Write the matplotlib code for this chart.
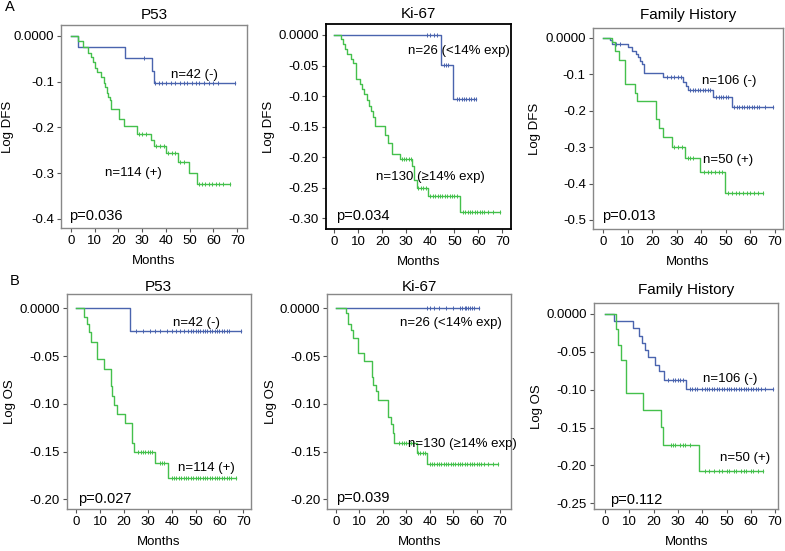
import numpy as np
import matplotlib
matplotlib.use("Agg")
import matplotlib.pyplot as plt

plt.rcParams['font.family'] = ['Liberation Sans', 'DejaVu Sans']

BLUE = '#4a64ae'
GREEN = '#44c04c'

# ---- A: DFS ----
# P53
a1_neg_t = [0, 3, 23, 34, 35]
a1_neg_s = [0, -0.025, -0.049, -0.076, -0.103]
a1_neg_c = [31, 35.5, 37, 38.5, 40, 42, 44, 46, 47.5, 49, 51, 52.5, 54, 56, 58, 60, 62, 69]
a1_pos_t = [0, 3, 5, 7.4, 8.4, 9.2, 10.2, 11.2, 12.6, 14, 14.6, 15.1, 15.8, 16.5, 17,
            20.4, 22.5, 27.7, 33.6, 35, 39.9, 45.2, 49.8, 52.9]
a1_pos_s = [0, -0.012, -0.025, -0.038, -0.047, -0.056, -0.071, -0.078, -0.09, -0.102,
            -0.112, -0.124, -0.133, -0.14, -0.16, -0.181, -0.198, -0.214, -0.227, -0.24,
            -0.256, -0.275, -0.299, -0.323]
a1_pos_c = [28.5, 30, 31.5, 36, 37.5, 39, 41, 42.5, 44, 46, 47.5, 54, 55, 56.5, 58, 59.5,
            61, 62.5, 64, 67]

# Ki-67
a2_neg_t = [0, 44.3, 49.6]
a2_neg_s = [0, -0.049, -0.105]
a2_neg_c = [38.5, 40, 41.5, 42.6, 45.5, 46.5, 47.5, 51, 52, 53, 54, 55, 56, 57, 58, 59]
a2_pos_t = [0, 2.8, 3.5, 4.4, 5.1, 6.9, 7.9, 8.9, 10.7, 11.7, 12.4, 13.5, 14.4, 15.3,
            16.3, 16.9, 21.1, 22.5, 24.2, 27.4, 32.2, 33.2, 34.3, 39.2, 52.4]
a2_pos_s = [0, -0.007, -0.014, -0.023, -0.031, -0.04, -0.046, -0.072, -0.08, -0.089,
            -0.097, -0.106, -0.116, -0.124, -0.134, -0.149, -0.164, -0.177, -0.195,
            -0.203, -0.214, -0.237, -0.251, -0.263, -0.29]
a2_pos_c = [28, 29, 30, 31, 32, 35, 36, 37, 38, 40, 41, 42, 43, 44, 45, 46, 47, 48, 49,
            50, 51, 53.5, 54.5, 55.5, 56.5, 57.5, 58.5, 59.5, 60.5, 61.5, 62.5, 64, 66, 69]

# Family History
a3_neg_t = [0, 2.7, 3.4, 10.2, 11.8, 13.3, 14.3, 15, 16, 16.7, 24.5, 32.6, 33.7, 34.7,
            44.6, 52.3]
a3_neg_s = [0, -0.008, -0.017, -0.027, -0.036, -0.045, -0.054, -0.064, -0.073, -0.098,
            -0.109, -0.122, -0.133, -0.144, -0.164, -0.189]
a3_neg_c = [5, 7, 26, 27.5, 29, 30.5, 31.5, 35.5, 36.5, 37.5, 38.5, 39.5, 40.5, 41.5,
            42.5, 43.5, 46, 47, 48, 49, 50, 51, 53.5, 54.5, 55.5, 56.5, 57.5, 58.5, 59.5,
            60.5, 61.5, 62.5, 63.5, 66, 69]
a3_pos_t = [0, 3.4, 4.8, 6.5, 8.8, 12.9, 13.6, 21.7, 22.7, 24.5, 27.9, 33.3, 39.4, 49.6]
a3_pos_s = [0, -0.011, -0.038, -0.061, -0.127, -0.151, -0.173, -0.224, -0.249, -0.273,
            -0.299, -0.331, -0.369, -0.427]
a3_pos_c = [29, 30.5, 32, 34.5, 35.5, 36.5, 41, 42.5, 44, 45.5, 47, 48.5, 51, 52.5, 54,
            55.5, 57, 58.5, 60, 61.5, 63, 65]

# ---- B: OS ----
# P53
b1_neg_t = [0, 22.6]
b1_neg_s = [0, -0.0237]
b1_neg_c = [25, 28, 31, 33, 35, 38, 40, 42, 43.5, 45, 47, 48, 49, 50, 51, 52, 53, 54,
            55, 56, 57, 58, 59, 60, 61, 62, 63, 64, 69]
b1_pos_t = [0, 3.5, 4.7, 5.6, 6.3, 8.6, 11.9, 14.5, 15.2, 16, 17.3, 20.5, 23.3, 24.4,
            33, 38.6]
b1_pos_s = [0, -0.0087, -0.016, -0.025, -0.035, -0.053, -0.063, -0.081, -0.092, -0.101,
            -0.111, -0.12, -0.141, -0.15, -0.162, -0.178]
b1_pos_c = [26, 27, 28, 29, 30, 31, 32, 35, 36, 37, 40, 41, 42, 43, 44, 45, 46, 47, 48,
            49, 50, 51, 52, 53, 54, 55, 56, 57, 58, 59, 60, 61, 62, 63, 64, 65, 67]

# Ki-67
b2_neg_t = [0]
b2_neg_s = [0]
b2_neg_c = [39, 40, 42, 44, 47, 50, 53, 54, 55, 55.7, 56.4, 57, 58, 59, 61]
b2_pos_t = [0, 4.1, 5, 6.4, 7.4, 9.2, 12.1, 15.2, 15.9, 16.9, 18, 22.3, 23.5, 24.3,
            24.8, 34.4, 39]
b2_pos_s = [0, -0.005, -0.016, -0.023, -0.031, -0.047, -0.055, -0.072, -0.08, -0.087,
            -0.096, -0.114, -0.121, -0.13, -0.141, -0.151, -0.163]
b2_pos_c = [27, 28, 29, 30, 31, 32, 33, 35, 36, 37, 38, 40, 41, 42, 43, 44, 45, 46,
            47, 48, 49, 50, 51, 52, 53, 54, 55, 56, 57, 58, 59, 60, 61, 62, 63, 65, 67, 69]

# Family History
b3_neg_t = [0, 3.7, 11.7, 14.1, 15.1, 16.5, 17.8, 20.6, 22.4, 24.3, 33.2]
b3_neg_s = [0, -0.009, -0.019, -0.029, -0.038, -0.048, -0.057, -0.067, -0.076, -0.087,
            -0.0995]
b3_neg_c = [26, 28, 29, 30, 31, 32, 35, 36, 37, 38, 40, 41, 42, 43, 44, 45, 46, 47, 48,
            49, 50, 51, 52, 53, 54, 55, 56, 57, 58, 59, 60, 61, 62, 63, 64, 66, 69]
b3_pos_t = [0, 4.5, 5.5, 6.5, 8.6, 15.5, 22.9, 23.7, 38.7]
b3_pos_s = [0, -0.02, -0.041, -0.061, -0.105, -0.127, -0.149, -0.173, -0.207]
b3_pos_c = [27, 28, 29, 31, 32, 33, 35, 41, 43, 45, 47, 48, 50, 51, 53, 54, 56, 57, 58,
            60, 61, 63, 65]

titles = ['P53', 'Ki-67', 'Family History', 'P53', 'Ki-67', 'Family History']
ylabels = ['Log DFS'] * 3 + ['Log OS'] * 3
pvalues = ['p=0.036', 'p=0.034', 'p=0.013', 'p=0.027', 'p=0.039', 'p=0.112']
neg_labels = ['n=42 (-)', 'n=26 (<14% exp)', 'n=106 (-)',
              'n=42 (-)', 'n=26 (<14% exp)', 'n=106 (-)']
pos_labels = ['n=114 (+)', 'n=130 (\u226514% exp)', 'n=50 (+)',
              'n=114 (+)', 'n=130 (\u226514% exp)', 'n=50 (+)']
yticks = [[0, -0.1, -0.2, -0.3, -0.4],
          [0, -0.05, -0.10, -0.15, -0.20, -0.25, -0.30],
          [0, -0.1, -0.2, -0.3, -0.4, -0.5],
          [0, -0.05, -0.10, -0.15, -0.20],
          [0, -0.05, -0.10, -0.15, -0.20],
          [0, -0.05, -0.10, -0.15, -0.20, -0.25]]
ytick_fmt = ['{:.1f}', '{:.2f}', '{:.1f}', '{:.2f}', '{:.2f}', '{:.2f}']

curves = [
    (a1_neg_t, a1_neg_s, a1_neg_c, a1_pos_t, a1_pos_s, a1_pos_c),
    (a2_neg_t, a2_neg_s, a2_neg_c, a2_pos_t, a2_pos_s, a2_pos_c),
    (a3_neg_t, a3_neg_s, a3_neg_c, a3_pos_t, a3_pos_s, a3_pos_c),
    (b1_neg_t, b1_neg_s, b1_neg_c, b1_pos_t, b1_pos_s, b1_pos_c),
    (b2_neg_t, b2_neg_s, b2_neg_c, b2_pos_t, b2_pos_s, b2_pos_c),
    (b3_neg_t, b3_neg_s, b3_neg_c, b3_pos_t, b3_pos_s, b3_pos_c),
]

# layout, in pixels: left, right, top, bottom
W, H = 785, 551
boxes = [(61, 247, 25, 228), (325.7, 510.7, 24, 229), (592.7, 783.3, 27.7, 229.3),
         (66.7, 250.7, 294, 509), (327.3, 511, 294, 509), (594, 778.3, 303.3, 509)]
xlims = [(-4.1, 74.1), (-3.6, 73.5), (-4.3, 73.4), (-3.9, 73.1), (-3.7, 74.7), (-4.5, 71.3)]
ylims = [(-0.42, 0.024), (-0.3175, 0.018), (-0.5255, 0.027),
         (-0.210, 0.015), (-0.210, 0.015), (-0.2575, 0.014)]
title_pads = [4, 4, 6, 0.5, 0.5, 7]
ylabel_x = [-0.25, -0.275, -0.27, -0.275, -0.275, -0.275]
# text positions (data coords): neg label centre, pos label centre, p-value left
neg_xy = [(52.2, -0.085), (51.7, -0.027), (51.5, -0.118),
          (50.5, -0.0157), (49, -0.0157), (51.5, -0.086)]
pos_xy = [(26.3, -0.299), (40.1, -0.233), (51, -0.335),
          (54.7, -0.1675), (54, -0.1416), (57.6, -0.19)]
p_xy = [(-0.7, -0.393), (0.7, -0.297), (-0.3, -0.49),
        (0.7, -0.2), (0, -0.199), (2.3, -0.245)]


def step_level(t, s, x):
    i = np.searchsorted(t, x, side='right') - 1
    return np.asarray(s)[i]


fig = plt.figure(figsize=(W / 100, H / 100), dpi=100)

for k in range(6):
    l, r, tp, bt = boxes[k]
    ax = fig.add_axes([l / W, 1 - bt / H, (r - l) / W, (bt - tp) / H])
    nt, ns, nc, pt, ps, pc = curves[k]
    for t, s, c, col in [(nt, ns, nc, BLUE), (pt, ps, pc, GREEN)]:
        tend = max(c)
        ax.step(list(t) + [tend], list(s) + [s[-1]], where='post', color=col, lw=1.0)
        ax.plot(c, step_level(t, s, c), ls='none', marker='|', ms=3.5, mew=0.7, color=col)

    ax.set_xlim(*xlims[k])
    ax.set_ylim(*ylims[k])
    ax.set_xticks(range(0, 71, 10))
    ax.set_yticks(yticks[k])
    labs = ['0.0000'] + [ytick_fmt[k].format(v) for v in yticks[k][1:]]
    ax.set_yticklabels(labs)
    ax.tick_params(labelsize=9.5, length=3, width=0.8, color='#555555', pad=2)

    spine_col = 'black' if k == 1 else '#888888'
    spine_w = 1.3 if k == 1 else 1.0
    for sp in ax.spines.values():
        sp.set_color(spine_col)
        sp.set_linewidth(spine_w)

    ax.set_title(titles[k], fontsize=11, pad=title_pads[k])
    h = bt - tp
    ax.set_xlabel('Months', fontsize=9.5)
    ax.xaxis.set_label_coords(0.5, -27 / h)
    ax.set_ylabel(ylabels[k], fontsize=9.5)
    ax.yaxis.set_label_coords(ylabel_x[k], 0.5)

    ax.text(*neg_xy[k], neg_labels[k], fontsize=9.5, ha='center', va='center')
    ax.text(*pos_xy[k], pos_labels[k], fontsize=9.5, ha='center', va='center')
    ax.text(*p_xy[k], pvalues[k], fontsize=10.5, ha='left', va='center')

fig.text(10 / W, 1 - 7 / H, 'A', fontsize=10.5, ha='center', va='center')
fig.text(15 / W, 1 - 281 / H, 'B', fontsize=10.5, ha='center', va='center')

fig.savefig('out.png', dpi=100)
